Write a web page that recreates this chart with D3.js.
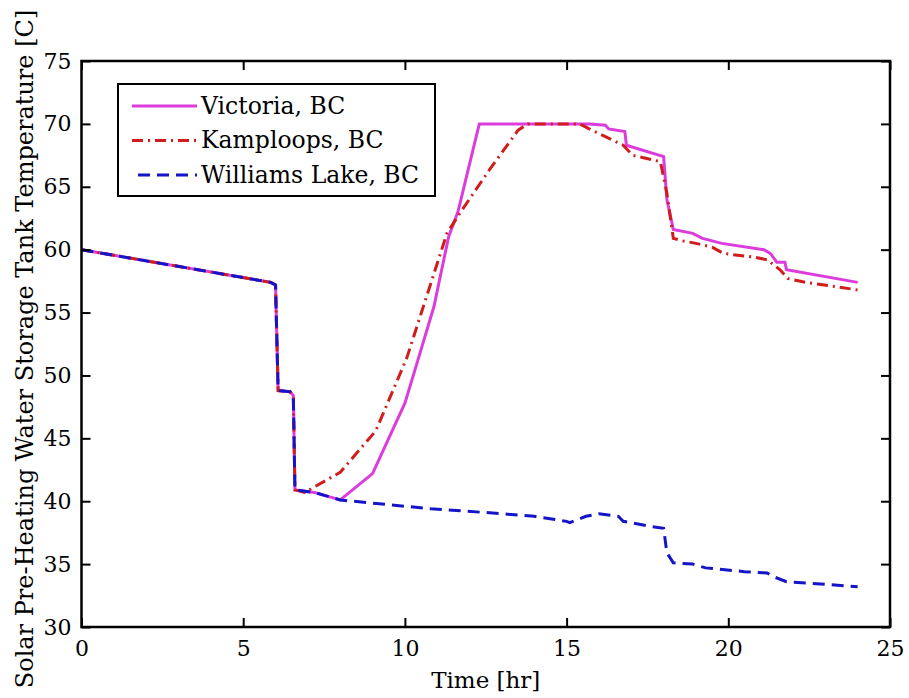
<!DOCTYPE html>
<html>
<head>
<meta charset="utf-8">
<script src="https://cdn.jsdelivr.net/npm/d3@7"></script>
<style>
  html, body { margin: 0; padding: 0; background: #fff; }
  svg { display: block; }
  text { font-family: "DejaVu Serif", "Liberation Serif", serif; fill: #000; }
</style>
</head>
<body>
<div id="chart"></div>
<script>
// tank temperature [C] vs time [hr]
var victoria = [
  [0, 60.0], [5.85, 57.4], [6.0, 57.2], [6.08, 48.8], [6.45, 48.7], [6.55, 48.4],
  [6.6, 40.9], [7.2, 40.7], [8.0, 40.1], [9.0, 42.2], [10.0, 47.8], [10.4, 51.2],
  [10.9, 55.5], [11.35, 61.0], [11.65, 63.1], [12.3, 70.0], [15.7, 70.0], [16.2, 69.9],
  [16.3, 69.6], [16.8, 69.4], [16.85, 68.3], [18.0, 67.4], [18.1, 64.0], [18.3, 61.6],
  [18.9, 61.3], [19.2, 60.9], [19.8, 60.5], [21.1, 60.0], [21.3, 59.7], [21.5, 59.0],
  [21.75, 59.0], [21.8, 58.4], [24.0, 57.4]
];
var kamloops = [
  [0, 60.0], [5.85, 57.4], [6.0, 57.2], [6.08, 48.8], [6.45, 48.7], [6.55, 48.4],
  [6.6, 40.9], [6.9, 40.7], [8.0, 42.3], [9.1, 45.6], [10.06, 51.4], [11.3, 61.3],
  [11.7, 62.9], [12.6, 66.3], [13.5, 69.5], [13.8, 70.0], [15.4, 70.0], [15.7, 69.6],
  [16.75, 68.3], [17.05, 67.5], [17.9, 67.0], [18.1, 64.5], [18.3, 60.9], [18.6, 60.7],
  [19.0, 60.5], [19.5, 60.2], [19.85, 59.7], [20.8, 59.4], [21.2, 59.2], [21.6, 58.4],
  [21.85, 57.7], [22.4, 57.4], [24.0, 56.8]
];
var williams = [
  [0, 60.0], [5.85, 57.4], [6.0, 57.2], [6.08, 48.8], [6.45, 48.7], [6.55, 48.4],
  [6.6, 40.9], [7.2, 40.7], [8.0, 40.1], [10.8, 39.4], [12.5, 39.1], [14.0, 38.8],
  [15.0, 38.4], [15.1, 38.3], [15.6, 38.8], [16.0, 39.0], [16.6, 38.8], [16.75, 38.4],
  [17.6, 38.0], [18.0, 37.85], [18.1, 35.9], [18.3, 35.1], [18.9, 35.0], [19.3, 34.7],
  [20.5, 34.4], [21.2, 34.3], [21.4, 34.0], [21.8, 33.6], [22.4, 33.5], [24.0, 33.2]
];

var seriesNames = ["Victoria, BC", "Kamploops, BC", "Williams Lake, BC"];
var xTicks = [0, 5, 10, 15, 20, 25];
var yTicks = [30, 35, 40, 45, 50, 55, 60, 65, 70, 75];

var series = [
  { name: seriesNames[0], data: victoria, color: "#dd3cdd", dash: null },
  { name: seriesNames[1], data: kamloops, color: "#d01c1c", dash: "11,5,2,5" },
  { name: seriesNames[2], data: williams, color: "#1414c8", dash: "12,7" }
];

var W = 909, H = 698;
var m = { top: 61, right: 19, bottom: 71, left: 81.5 };
var iw = W - m.left - m.right, ih = H - m.top - m.bottom;

var svg = d3.select("#chart").append("svg").attr("width", W).attr("height", H);
var g = svg.append("g").attr("transform", "translate(" + m.left + "," + m.top + ")");

var x = d3.scaleLinear().domain([0, 25]).range([0, iw]);
var y = d3.scaleLinear().domain([30, 75]).range([ih, 0]);

var line = d3.line().x(function (d) { return x(d[0]); }).y(function (d) { return y(d[1]); });

g.selectAll("path.series").data(series).enter().append("path")
  .attr("class", "series")
  .attr("d", function (s) { return line(s.data); })
  .attr("fill", "none")
  .attr("stroke", function (s) { return s.color; })
  .attr("stroke-width", 3)
  .attr("stroke-dasharray", function (s) { return s.dash; });

// axes: inward ticks on all four sides
function styleAxis(sel) {
  sel.select(".domain").remove();
  sel.selectAll(".tick line").attr("stroke", "#000").attr("stroke-width", 2);
  sel.selectAll("text").style("font-size", "22px");
}
g.append("g").attr("transform", "translate(0," + ih + ")")
  .call(d3.axisBottom(x).tickValues(xTicks).tickSizeInner(-9).tickSizeOuter(0).tickPadding(13))
  .call(styleAxis);
g.append("g")
  .call(d3.axisTop(x).tickValues(xTicks).tickSizeInner(-9).tickSizeOuter(0).tickFormat(""))
  .call(styleAxis);
g.append("g")
  .call(d3.axisLeft(y).tickValues(yTicks).tickSizeInner(-9).tickSizeOuter(0).tickPadding(10))
  .call(styleAxis);
g.append("g").attr("transform", "translate(" + iw + ",0)")
  .call(d3.axisRight(y).tickValues(yTicks).tickSizeInner(-9).tickSizeOuter(0).tickFormat(""))
  .call(styleAxis);

g.append("rect").attr("width", iw).attr("height", ih)
  .attr("fill", "none").attr("stroke", "#000").attr("stroke-width", 2.5);

// axis labels
svg.append("text").attr("x", m.left + iw / 2).attr("y", 688)
  .attr("text-anchor", "middle").style("font-size", "23px").text("Time [hr]");
svg.append("text").attr("transform", "translate(33," + 349 + ") rotate(-90)")
  .attr("text-anchor", "middle").style("font-size", "24px")
  .text("Solar Pre-Heating Water Storage Tank Temperature [C]");

// legend
var lg = svg.append("g");
lg.append("rect").attr("x", 118).attr("y", 84).attr("width", 317).attr("height", 112)
  .attr("fill", "#fff").attr("stroke", "#000").attr("stroke-width", 2);
var rows = lg.selectAll("g.row").data(series).enter().append("g")
  .attr("class", "row")
  .attr("transform", function (s, i) { return "translate(0," + (106 + i * 34.5) + ")"; });
rows.append("line").attr("x1", 132).attr("x2", 197).attr("y1", 0).attr("y2", 0)
  .attr("stroke", function (s) { return s.color; }).attr("stroke-width", 3)
  .attr("stroke-dasharray", function (s) { return s.dash; })
  .attr("stroke-dashoffset", function (s, i) { return i === 2 ? -6 : 0; });
rows.append("text").attr("x", 201).attr("y", 7.5).style("font-size", "23.5px")
  .text(function (s) { return s.name; });
</script>
</body>
</html>
